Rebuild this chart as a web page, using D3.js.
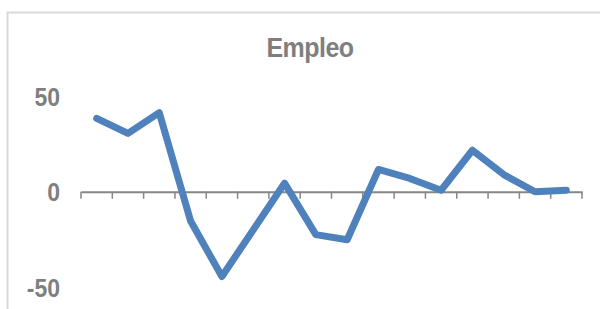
<!DOCTYPE html>
<html>
<head>
<meta charset="utf-8">
<script src="https://cdn.jsdelivr.net/npm/d3@7"></script>
<style>
html, body { margin: 0; padding: 0; background: #fff; }
svg { display: block; }
text { font-family: "Liberation Sans", Arial, sans-serif; font-weight: bold; fill: #7f7f7f; }
</style>
</head>
<body>
<svg id="chart" width="600" height="309"></svg>
<script>
const title = "Empleo";
const categories = ["1","2","3","4","5","6","7","8","9","10","11","12","13","14","15","16"];
const values = [38.5, 30.6, 41.5, -15.4, -44.5, -20, 4.5, -22.5, -25.2, 11.7, 7, 0.8, 21.8, 9, 0, 0.8];
const yTicks = [-50, 0, 50];

const svg = d3.select("#chart");

// chart frame (cropped at right/bottom)
svg.append("rect")
  .attr("x", 7.5).attr("y", 12.5)
  .attr("width", 620).attr("height", 320)
  .attr("fill", "none").attr("stroke", "#d9d9d9").attr("stroke-width", 2);

const x = d3.scaleBand().domain(categories).range([81, 582]).padding(0);
const y = d3.scaleLinear().domain([-50, 50]).range([287, 96.5]);

// title
svg.append("text")
  .attr("transform", "translate(310,56.7) scale(1,1.07)")
  .attr("text-anchor", "middle")
  .attr("font-size", 25)
  .attr("letter-spacing", "-0.5")
  .text(title);

// y axis labels (no axis line)
const yAxis = d3.axisLeft(y).tickValues(yTicks).tickSize(0).tickPadding(0).tickFormat(d => String(d));
const yG = svg.append("g").attr("transform", "translate(60,0)").call(yAxis);
yG.select(".domain").remove();
yG.selectAll("text")
  .attr("font-size", 23)
  .attr("dy", "0.36em")
  .attr("transform", "scale(1,1.1)")
  .attr("fill", "#7f7f7f")
  .style("font-family", "'Liberation Sans', Arial, sans-serif")
  .style("font-weight", "bold");

// x axis at zero
const xAxis = d3.axisBottom(x).tickSize(0).tickFormat("");
const xG = svg.append("g").attr("transform", `translate(0,${y(0)})`).call(xAxis);
xG.select(".domain").attr("stroke", "#868686").attr("stroke-width", 2);
xG.selectAll(".tick").remove();
const bounds = categories.map(c => x(c)).concat([x.range()[1]]);
xG.selectAll("line.tk").data(bounds).enter().append("line")
  .attr("class", "tk")
  .attr("x1", d => d).attr("x2", d => d)
  .attr("y1", 0).attr("y2", 7)
  .attr("stroke", "#868686").attr("stroke-width", 1.5);

// line
const line = d3.line()
  .x((d, i) => x(categories[i]) + x.bandwidth() / 2)
  .y(d => y(d));
svg.append("path")
  .datum(values)
  .attr("d", line)
  .attr("fill", "none")
  .attr("stroke", "#4f81bd")
  .attr("stroke-width", 7)
  .attr("stroke-linejoin", "round")
  .attr("stroke-linecap", "round");
</script>
</body>
</html>
